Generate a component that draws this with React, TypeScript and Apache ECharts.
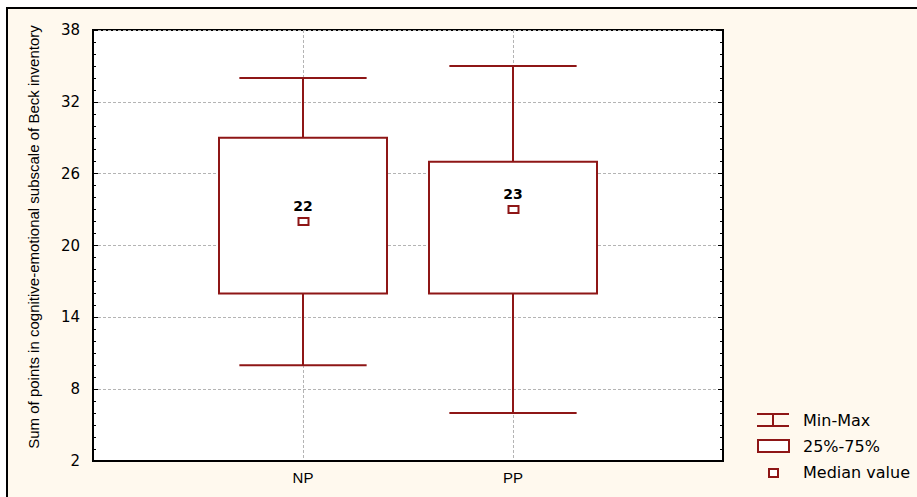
import React, { useEffect, useRef } from "react";
import * as echarts from "echarts";

const categories = ["", "NP", "PP", ""];
const groupIndex = [1, 2];
const mins = [10, 6];
const q1s = [16, 16];
const medians = [22, 23];
const q3s = [29, 27];
const maxs = [34, 35];
const yTitle = "Sum of points in cognitive-emotional subscale of Beck inventory";
const legendLabels = ["Min-Max", "25%-75%", "Median value"];

const RED = "#8E1616";

export default function App() {
  const ref = useRef<HTMLDivElement>(null);
  useEffect(() => {
    const chart = echarts.init(ref.current!, null, { renderer: "svg" });
    const data = groupIndex.map((g, i) => [g, mins[i], q1s[i], medians[i], q3s[i], maxs[i]]);
    const option: any = {
      animation: false,
      backgroundColor: "#FFF9EE",
      grid: {
        left: 93,
        top: 30,
        right: 194,
        bottom: 36,
        show: true,
        backgroundColor: "#ffffff",
        borderColor: "#000",
        borderWidth: 2,
      },
      xAxis: {
        type: "category",
        data: categories,
        boundaryGap: false,
        axisLine: { show: true, lineStyle: { color: "#000", width: 2 } },
        axisTick: { show: false },
        axisLabel: { color: "#000", fontFamily: "Liberation Sans", fontSize: 15, margin: 9 },
        splitLine: { show: true, lineStyle: { color: "#b4b4b4", type: [3, 2], width: 1 } },
      },
      yAxis: [
        {
          type: "value",
          min: 2,
          max: 38,
          interval: 6,
          axisLine: { show: true, lineStyle: { color: "#000", width: 2 } },
          axisTick: { show: true, inside: true, length: 5, lineStyle: { color: "#000", width: 1 } },
          minorTick: { show: true, splitNumber: 6, length: 3, lineStyle: { color: "#000", width: 1 } },
          axisLabel: { color: "#000", fontFamily: "DejaVu Sans", fontSize: 15, margin: 13 },
          splitLine: { show: true, lineStyle: { color: "#b4b4b4", type: [3, 2], width: 1 } },
        },
        {
          type: "value",
          position: "right",
          min: 2,
          max: 38,
          interval: 6,
          axisLine: { show: true, lineStyle: { color: "#000", width: 2 } },
          axisTick: { show: true, inside: true, length: 5, lineStyle: { color: "#000", width: 1 } },
          minorTick: { show: true, splitNumber: 6, length: 3, lineStyle: { color: "#000", width: 1 } },
          axisLabel: { show: false },
          splitLine: { show: false },
        },
      ],
      series: [
        {
          type: "custom",
          data,
          clip: false,
          renderItem: (params: any, api: any) => {
            const x = api.value(0);
            const unit = api.coord([2, 2])[0] - api.coord([1, 2])[0];
            const cx = api.coord([x, 2])[0];
            const yMin = api.coord([x, api.value(1)])[1];
            const yQ1 = api.coord([x, api.value(2)])[1];
            const yMed = api.coord([x, api.value(3)])[1];
            const yQ3 = api.coord([x, api.value(4)])[1];
            const yMax = api.coord([x, api.value(5)])[1];
            const hb = unit * 0.4;
            const hc = unit * 0.303;
            const ls = { stroke: RED, lineWidth: 2 };
            return {
              type: "group",
              children: [
                { type: "line", shape: { x1: cx, y1: yMax, x2: cx, y2: yQ3 }, style: ls },
                { type: "line", shape: { x1: cx, y1: yQ1, x2: cx, y2: yMin }, style: ls },
                { type: "line", shape: { x1: cx - hc, y1: yMax, x2: cx + hc, y2: yMax }, style: ls },
                { type: "line", shape: { x1: cx - hc, y1: yMin, x2: cx + hc, y2: yMin }, style: ls },
                {
                  type: "rect",
                  shape: { x: cx - hb, y: yQ3, width: 2 * hb, height: yQ1 - yQ3 },
                  style: { fill: "#fff", stroke: RED, lineWidth: 2 },
                },
                {
                  type: "rect",
                  shape: { x: cx - 4.5, y: yMed - 3.5, width: 10, height: 7 },
                  style: { fill: "#fff", stroke: RED, lineWidth: 2 },
                },
                {
                  type: "text",
                  x: cx,
                  y: yMed - 16,
                  style: {
                    text: String(api.value(3)),
                    fill: "#000",
                    font: "bold 14px 'DejaVu Sans'",
                    align: "center",
                    verticalAlign: "middle",
                  },
                },
              ],
            };
          },
        },
      ],
      graphic: [
        { type: "rect", shape: { x: 0, y: 0, width: 917, height: 7 }, style: { fill: "#fff" } },
        { type: "rect", shape: { x: 0, y: 0, width: 6, height: 497 }, style: { fill: "#fff" } },
        { type: "line", shape: { x1: 6, y1: 8, x2: 917, y2: 8 }, style: { stroke: "#000", lineWidth: 2 } },
        { type: "line", shape: { x1: 7, y1: 7, x2: 7, y2: 497 }, style: { stroke: "#000", lineWidth: 2 } },
        {
          type: "text",
          x: 33,
          y: 237,
          rotation: Math.PI / 2,
          style: {
            text: yTitle,
            fill: "#000",
            font: "15px 'Liberation Sans'",
            align: "center",
            verticalAlign: "middle",
          },
        },
        // legend: min-max
        { type: "line", shape: { x1: 757, y1: 414, x2: 789, y2: 414 }, style: { stroke: RED, lineWidth: 2 } },
        { type: "line", shape: { x1: 757, y1: 426, x2: 789, y2: 426 }, style: { stroke: RED, lineWidth: 2 } },
        { type: "line", shape: { x1: 773, y1: 414, x2: 773, y2: 426 }, style: { stroke: RED, lineWidth: 2 } },
        {
          type: "text", x: 803, y: 420,
          style: { text: legendLabels[0], fill: "#000", font: "16px 'DejaVu Sans'", verticalAlign: "middle" },
        },
        { type: "rect", shape: { x: 758, y: 440, width: 31, height: 12 }, style: { fill: "#fff", stroke: RED, lineWidth: 2 } },
        {
          type: "text", x: 803, y: 446,
          style: { text: legendLabels[1], fill: "#000", font: "16px 'DejaVu Sans'", verticalAlign: "middle" },
        },
        { type: "rect", shape: { x: 769, y: 469, width: 9, height: 8 }, style: { fill: "#fff", stroke: RED, lineWidth: 2 } },
        {
          type: "text", x: 803, y: 472,
          style: { text: legendLabels[2], fill: "#000", font: "16px 'DejaVu Sans'", verticalAlign: "middle" },
        },
      ],
    };
    chart.setOption(option);
    return () => chart.dispose();
  }, []);
  return (
    <div
      ref={ref}
      style={{ position: "fixed", left: 0, top: 0, width: 917, height: 497 }}
    />
  );
}
